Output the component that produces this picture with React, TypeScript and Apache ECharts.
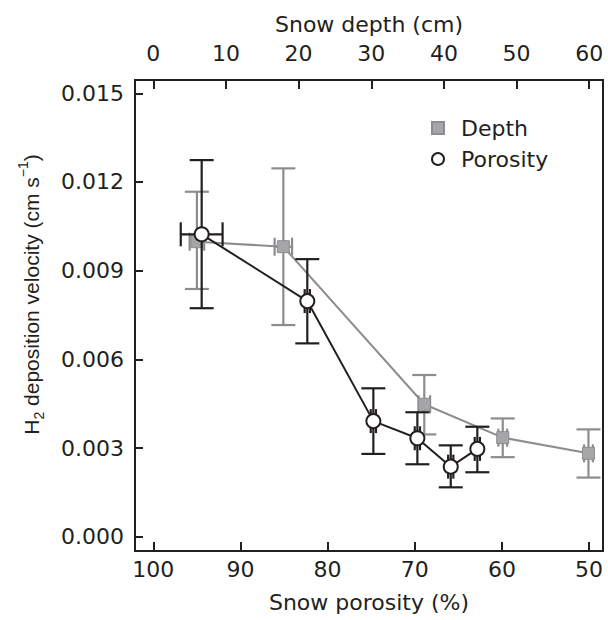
import React, { useEffect, useRef } from "react";
import * as echarts from "echarts";

// Snow depth series (top axis, cm)
const depthX = [6.0, 17.9, 37.3, 48.1, 59.9];
const depthY = [0.00998, 0.00981, 0.00448, 0.00335, 0.00282];
const depthYLow = [0.00838, 0.00716, 0.00346, 0.00269, 0.002];
const depthYHigh = [0.01167, 0.01246, 0.00547, 0.004, 0.00363];
const depthXErr = [1.0, 1.2, 0.8, 0.6, 0.6];

// Snow porosity series (bottom axis, %)
const porX = [94.45, 82.33, 74.75, 69.7, 65.87, 62.82];
const porY = [0.01023, 0.00797, 0.00391, 0.00333, 0.00237, 0.00297];
const porYLow = [0.00773, 0.00654, 0.0028, 0.00245, 0.00167, 0.00218];
const porYHigh = [0.01274, 0.00939, 0.00502, 0.00421, 0.00309, 0.00372];
const porXErr = [2.4, 0.3, 0.3, 0.3, 0.3, 0.3];

const porTicks = [100, 90, 80, 70, 60, 50];
const depthTicks = [0, 10, 20, 30, 40, 50, 60];
const yTicks = [0, 0.003, 0.006, 0.009, 0.012, 0.015];

const BLACK = "#231f20";
const GRAY = "#8d8d8f";
const GRAY_FILL = "#a6a6a9";
const FONT = "'DejaVu Sans', 'Liberation Sans', Arial, sans-serif";
const YFONT = "'Liberation Sans', Arial, Helvetica, sans-serif";
const FS = 22;

function makeErr(color: string, yCap: number, xCap: number) {
  return (params: any, api: any) => {
    const x = api.value(0);
    const y = api.value(1);
    const ylo = api.value(2);
    const yhi = api.value(3);
    const xlo = api.value(4);
    const xhi = api.value(5);
    const pLo = api.coord([x, ylo]);
    const pHi = api.coord([x, yhi]);
    const pL = api.coord([xlo, y]);
    const pR = api.coord([xhi, y]);
    const style = { stroke: color, lineWidth: 2.2 };
    const ln = (x1: number, y1: number, x2: number, y2: number) => ({
      type: "line",
      shape: { x1, y1, x2, y2 },
      style,
    });
    return {
      type: "group",
      children: [
        ln(pLo[0], pLo[1], pHi[0], pHi[1]),
        ln(pHi[0] - yCap, pHi[1], pHi[0] + yCap, pHi[1]),
        ln(pLo[0] - yCap, pLo[1], pLo[0] + yCap, pLo[1]),
        ln(pL[0], pL[1], pR[0], pR[1]),
        ln(pL[0], pL[1] - xCap, pL[0], pL[1] + xCap),
        ln(pR[0], pR[1] - xCap, pR[0], pR[1] + xCap),
      ],
    };
  };
}

export default function App() {
  const ref = useRef<HTMLDivElement>(null);
  useEffect(() => {
    if (!ref.current) return;
    const chart = echarts.init(ref.current, null, { renderer: "svg" });
    const depthLine = depthX.map((x, i) => [x, depthY[i]]);
    const depthErr = depthX.map((x, i) => [
      x,
      depthY[i],
      depthYLow[i],
      depthYHigh[i],
      x - depthXErr[i],
      x + depthXErr[i],
    ]);
    const porLine = porX.map((x, i) => [x, porY[i]]);
    const porErr = porX.map((x, i) => [
      x,
      porY[i],
      porYLow[i],
      porYHigh[i],
      x - porXErr[i],
      x + porXErr[i],
    ]);
    const tick = (customValues: number[], length: number) => ({
      show: true,
      inside: true,
      length,
      customValues,
      lineStyle: { color: BLACK, width: 2 },
    });
    const common = {
      axisLine: { show: false, onZero: false },
      splitLine: { show: false },
    };
    chart.setOption({
      animation: false,
      textStyle: { fontFamily: FONT },
      grid: {
        left: 135,
        right: 5,
        top: 80,
        bottom: 69,
        show: true,
        borderColor: BLACK,
        borderWidth: 2,
        backgroundColor: "transparent",
      },
      legend: {
        orient: "vertical",
        left: 431,
        top: 117,
        padding: 0,
        itemGap: 9,
        itemWidth: 12,
        itemHeight: 12,
        textStyle: {
          fontSize: FS,
          color: BLACK,
          fontFamily: FONT,
          padding: [0, 0, 0, 12],
        },
        data: [
          { name: "Depth", icon: "rect" },
          { name: "Porosity", icon: "circle" },
        ],
      },
      xAxis: [
        {
          type: "value",
          position: "bottom",
          inverse: true,
          min: 48.4,
          max: 102.1,
          ...common,
          axisTick: tick(porTicks, 9),
          axisLabel: {
            customValues: porTicks,
            fontSize: FS,
            color: BLACK,
            margin: 7,
            fontFamily: FONT,
          },
          name: "Snow porosity (%)",
          nameLocation: "middle",
          nameGap: 40,
          nameTextStyle: { fontSize: FS, color: BLACK, fontFamily: FONT },
        },
        {
          type: "value",
          position: "top",
          min: -2.52,
          max: 61.9,
          ...common,
          axisTick: tick(depthTicks, 9),
          axisLabel: {
            customValues: depthTicks,
            fontSize: FS,
            color: BLACK,
            margin: 16,
            fontFamily: FONT,
          },
          name: "Snow depth (cm)",
          nameLocation: "middle",
          nameGap: 45,
          nameTextStyle: { fontSize: FS, color: BLACK, fontFamily: FONT },
        },
      ],
      yAxis: [
        {
          type: "value",
          min: -0.000484,
          max: 0.01545,
          ...common,
          axisTick: tick(yTicks, 8),
          axisLabel: {
            customValues: yTicks,
            fontSize: FS,
            color: BLACK,
            margin: 11,
            fontFamily: FONT,
            formatter: (v: number) => v.toFixed(3),
          },
          name: "{n|H}{sub|2}{n| deposition velocity (cm s}{sup|−1}{n|)}",
          nameLocation: "middle",
          nameGap: 89,
          nameRotate: 90,
          nameTextStyle: {
            fontSize: 21,
            color: BLACK,
            fontFamily: YFONT,
            padding: [0, 0, 0, 42],
            rich: {
              n: { fontSize: 21, lineHeight: 30, color: BLACK, fontFamily: YFONT },
              sub: {
                fontSize: 14,
                lineHeight: 14,
                verticalAlign: "bottom",
                color: BLACK,
                fontFamily: YFONT,
              },
              sup: {
                fontSize: 14,
                lineHeight: 14,
                verticalAlign: "top",
                color: BLACK,
                fontFamily: YFONT,
              },
            },
          },
        },
      ],
      series: [
        {
          type: "custom",
          name: "depthErr",
          xAxisIndex: 1,
          yAxisIndex: 0,
          z: 1,
          silent: true,
          renderItem: makeErr(GRAY, 12, 9),
          data: depthErr,
        },
        {
          type: "line",
          name: "Depth",
          xAxisIndex: 1,
          yAxisIndex: 0,
          z: 2,
          data: depthLine,
          symbol: "rect",
          symbolSize: 12,
          itemStyle: { color: GRAY_FILL, borderColor: GRAY, borderWidth: 1 },
          lineStyle: { color: GRAY, width: 2 },
        },
        {
          type: "custom",
          name: "porErr",
          xAxisIndex: 0,
          yAxisIndex: 0,
          z: 3,
          silent: true,
          renderItem: makeErr(BLACK, 12, 12),
          data: porErr,
        },
        {
          type: "line",
          name: "Porosity",
          xAxisIndex: 0,
          yAxisIndex: 0,
          z: 4,
          data: porLine,
          symbol: "circle",
          symbolSize: 14,
          itemStyle: { color: "#ffffff", borderColor: BLACK, borderWidth: 2 },
          lineStyle: { color: BLACK, width: 2 },
        },
      ],
    });
    return () => chart.dispose();
  }, []);
  return (
    <div
      ref={ref}
      style={{ position: "fixed", left: 0, top: 0, width: 608, height: 620, background: "#fff" }}
    />
  );
}
